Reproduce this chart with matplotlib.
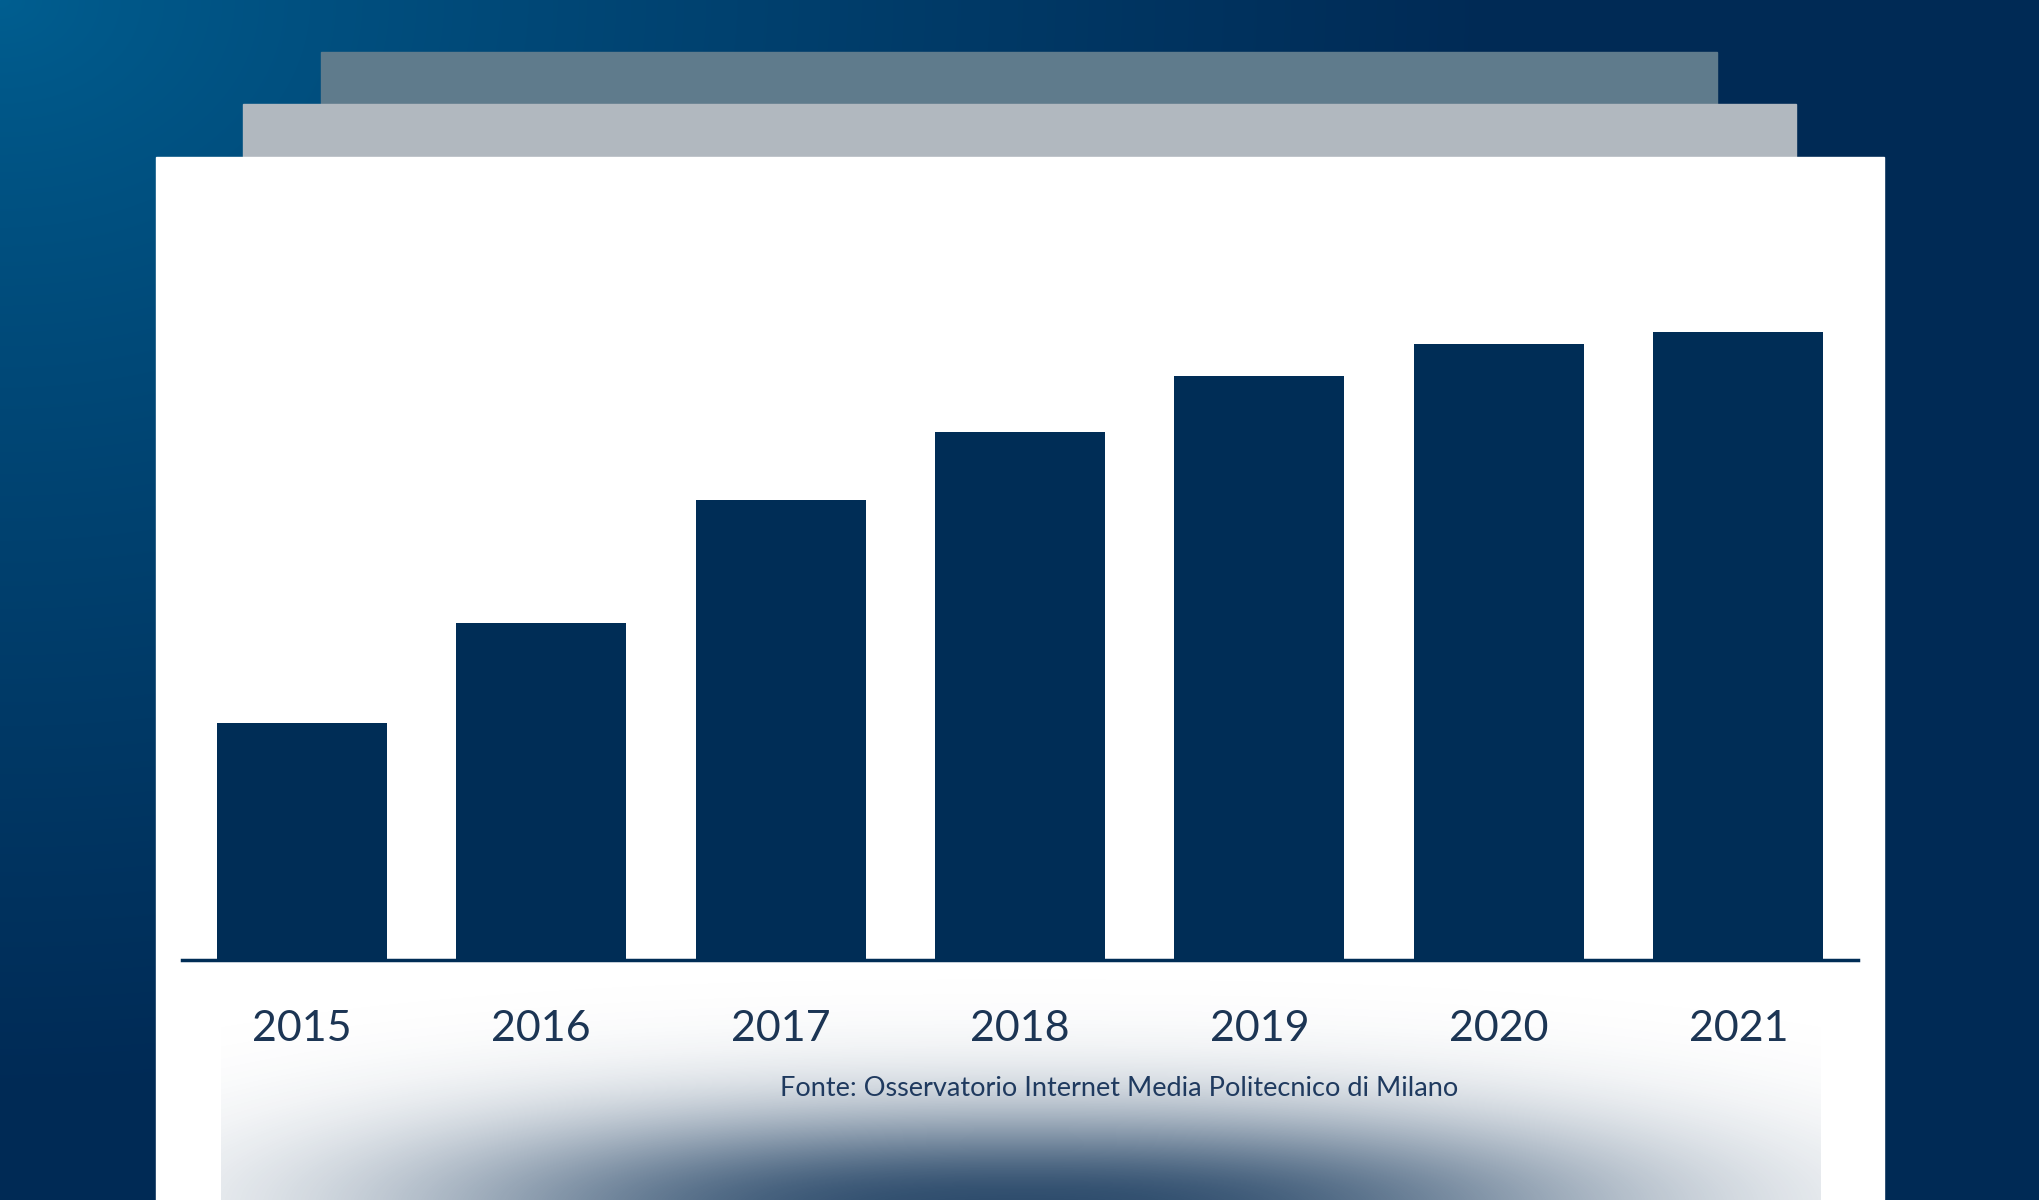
import numpy as np
import matplotlib.pyplot as plt
from matplotlib.patches import Rectangle

# -----------------------------
# Data (bar heights, no axis scale shown)
# -----------------------------
years = ["2015", "2016", "2017", "2018", "2019", "2020", "2021"]
values = [237, 337, 460, 528, 584, 616, 628]
source = "Fonte: Osservatorio Internet Media Politecnico di Milano"

W, H = 2040, 1200
navy = "#002d56"

fig = plt.figure(figsize=(W / 100, H / 100), dpi=100)

# -----------------------------
# Background (pixel coordinates)
# -----------------------------
bg = fig.add_axes([0, 0, 1, 1])
bg.set_xlim(0, W)
bg.set_ylim(H, 0)
bg.axis("off")

yy, xx = np.mgrid[0:H, 0:W]
t = np.clip(np.sqrt((xx / 1500) ** 2 + (yy / 1100) ** 2), 0, 1) ** 0.8
c0 = np.array([0, 95, 145]) / 255
c1 = np.array([0, 42, 85]) / 255
grad = c0[None, None, :] * (1 - t[..., None]) + c1[None, None, :] * t[..., None]
bg.imshow(grad, extent=(0, W, H, 0), aspect="auto", zorder=0)

# stacked sheets behind the white card
bg.add_patch(Rectangle((321, 52), 1396, 120, color="#5f7b8c", zorder=1))
bg.add_patch(Rectangle((243, 104), 1553, 80, color="#b1b8bf", zorder=2))
bg.add_patch(Rectangle((156, 157), 1728, H - 157, color="white", zorder=3))

# dark glow at the bottom of the card
gx0, gx1, gy0 = 221, 1821, 900
gy, gxx = np.mgrid[gy0:H, gx0:gx1]
alpha = 0.9 * np.exp(-np.abs((gxx - 1021) / 600) ** 2.5 - ((gy - 1205) / 97) ** 2)
glow = np.zeros(gy.shape + (4,))
glow[..., 0] = 22 / 255
glow[..., 1] = 56 / 255
glow[..., 2] = 92 / 255
glow[..., 3] = alpha
bg.imshow(glow, extent=(gx0, gx1, H, gy0), aspect="auto", zorder=4)

bg.text(1119, 1088, source, ha="center", va="center", fontsize=19.5,
        family="Lato", color="#1f3a5f", zorder=6)

# -----------------------------
# Bar chart
# -----------------------------
ax = fig.add_axes([182 / W, 1 - 960 / H, 1676 / W, 800 / H])
ax.patch.set_alpha(0)
x = np.arange(len(years))
ax.bar(x, values, width=0.71, color=navy, zorder=3)
ax.set_xlim(-0.5, len(years) - 0.5)
ax.set_ylim(0, 800)

for s in ["top", "right", "left"]:
    ax.spines[s].set_visible(False)
ax.spines["bottom"].set_color(navy)
ax.spines["bottom"].set_linewidth(2.5)
ax.set_yticks([])
ax.set_xticks(x)
ax.set_xticklabels(years, fontsize=31, family="Lato", color="#1c3554")
ax.tick_params(axis="x", length=0, pad=36)

fig.savefig("out.png", dpi=100)
